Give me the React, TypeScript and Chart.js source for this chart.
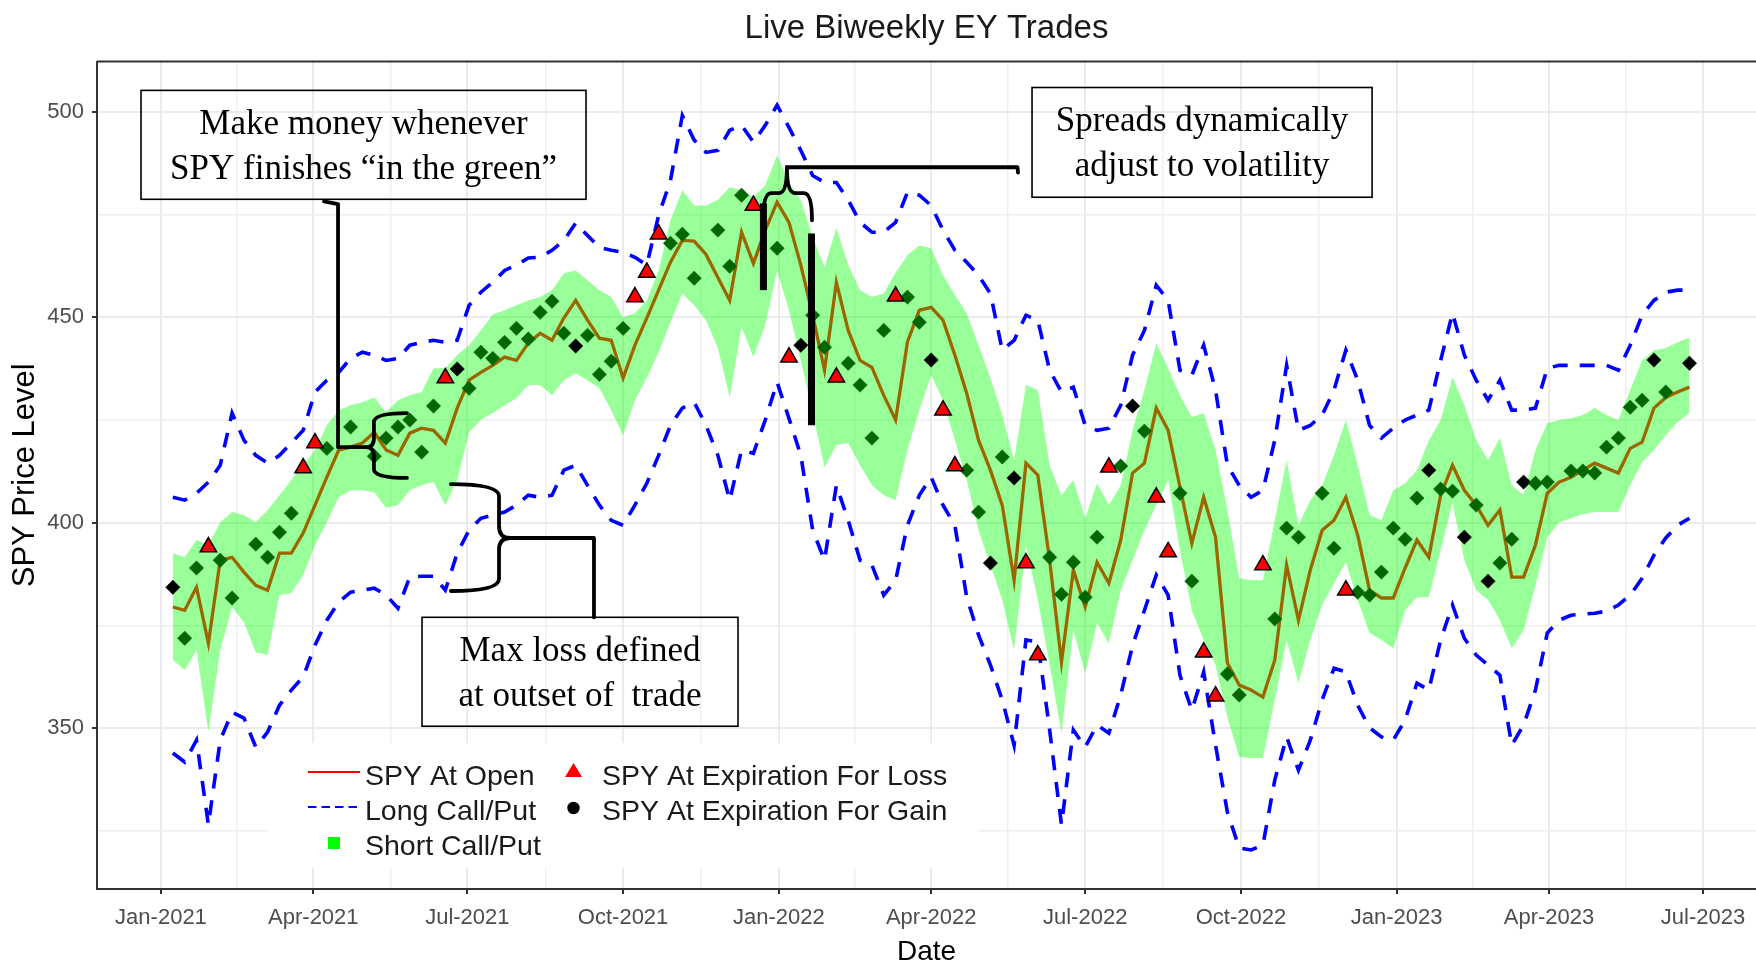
import { useEffect, useRef } from "react";
import { Chart, registerables } from "chart.js";

Chart.register(...registerables);

const SANS = '"Liberation Sans", Arial, sans-serif';
const SERIF = '"Liberation Serif", "Times New Roman", serif';

// ---- categories: weekly trade dates ----
const tradeWeeks = [
  "2021-01-08","2021-01-15","2021-01-22","2021-01-29","2021-02-05","2021-02-12","2021-02-19","2021-02-26","2021-03-05","2021-03-12",
  "2021-03-19","2021-03-26","2021-04-02","2021-04-09","2021-04-16","2021-04-23","2021-04-30","2021-05-07","2021-05-14","2021-05-21",
  "2021-05-28","2021-06-04","2021-06-11","2021-06-18","2021-06-25","2021-07-02","2021-07-09","2021-07-16","2021-07-23","2021-07-30",
  "2021-08-06","2021-08-13","2021-08-20","2021-08-27","2021-09-03","2021-09-10","2021-09-17","2021-09-24","2021-10-01","2021-10-08",
  "2021-10-15","2021-10-22","2021-10-29","2021-11-05","2021-11-12","2021-11-19","2021-11-26","2021-12-03","2021-12-10","2021-12-17",
  "2021-12-24","2021-12-31","2022-01-07","2022-01-14","2022-01-21","2022-01-28","2022-02-04","2022-02-11","2022-02-18","2022-02-25",
  "2022-03-04","2022-03-11","2022-03-18","2022-03-25","2022-04-01","2022-04-08","2022-04-15","2022-04-22","2022-04-29","2022-05-06",
  "2022-05-13","2022-05-20","2022-05-27","2022-06-03","2022-06-10","2022-06-17","2022-06-24","2022-07-01","2022-07-08","2022-07-15",
  "2022-07-22","2022-07-29","2022-08-05","2022-08-12","2022-08-19","2022-08-26","2022-09-02","2022-09-09","2022-09-16","2022-09-23",
  "2022-09-30","2022-10-07","2022-10-14","2022-10-21","2022-10-28","2022-11-04","2022-11-11","2022-11-18","2022-11-25","2022-12-02",
  "2022-12-09","2022-12-16","2022-12-23","2022-12-30","2023-01-06","2023-01-13","2023-01-20","2023-01-27","2023-02-03","2023-02-10",
  "2023-02-17","2023-02-24","2023-03-03","2023-03-10","2023-03-17","2023-03-24","2023-03-31","2023-04-07","2023-04-14","2023-04-21",
  "2023-04-28","2023-05-05","2023-05-12","2023-05-19","2023-05-26","2023-06-02","2023-06-09","2023-06-16","2023-06-23",
];

// ---- series values (SPY price level) ----
const spyOpen = [
  379.5,378.7,384.3,370.7,390.9,391.6,388.0,384.8,383.6,392.6,
  392.6,397.5,404.3,411.1,417.7,418.4,419.4,422.0,417.7,416.4,
  421.8,423.0,422.5,419.4,427.9,434.7,436.6,438.3,440.3,439.5,
  443.7,446.1,444.4,449.8,454.1,449.3,444.9,444.4,435.2,443.2,
  449.8,456.6,463.4,468.7,468.5,465.3,459.7,454.1,470.7,463.1,
  471.2,478.0,473.1,462.7,450.5,437.1,458.5,446.8,439.5,437.8,
  431.0,425.0,444.0,451.7,452.4,449.3,440.8,431.5,420.1,412.8,
  404.3,386.0,414.5,411.6,390.9,366.1,388.5,379.5,390.4,385.3,
  395.8,412.1,414.5,427.9,422.5,408.7,395.0,406.2,396.5,365.9,
  360.5,359.3,357.6,366.6,389.7,376.3,388.5,398.2,400.6,406.2,
  397.0,383.6,381.7,381.7,389.0,395.8,391.6,406.7,414.0,407.9,
  404.3,399.4,403.1,386.8,386.8,394.6,407.2,409.9,411.1,412.8,
  414.5,413.3,412.1,418.1,419.6,427.9,430.5,431.8,433.0,
];
const shortCall = [
  392.6,391.6,395.8,394.6,400.1,402.6,401.9,400.1,403.1,406.7,
  410.4,414.0,417.7,423.7,427.4,428.6,429.3,430.5,426.9,429.8,
  431.0,431.8,437.6,437.6,440.8,443.2,446.8,450.7,451.7,452.9,
  454.1,454.9,456.6,460.7,461.4,459.0,456.6,454.9,450.0,451.0,
  454.1,461.4,473.6,480.9,477.2,477.2,478.5,481.6,480.9,479.2,
  482.1,489.4,482.8,478.5,469.5,462.2,471.7,462.7,456.6,454.9,
  455.8,460.9,465.1,467.5,466.8,460.2,455.4,451.0,443.2,435.2,
  426.2,415.2,433.5,432.3,414.0,406.7,410.4,401.1,409.6,404.3,
  409.1,422.5,432.3,443.7,437.6,431.0,425.7,426.7,417.7,403.1,
  386.5,386.0,386.0,400.6,415.2,399.4,405.5,409.1,416.4,425.0,
  414.0,401.9,400.6,407.9,409.6,412.8,420.1,425.0,435.4,428.6,
  420.1,415.2,420.6,409.1,406.7,417.7,424.2,425.0,425.4,426.2,
  427.9,426.2,425.0,432.3,439.5,442.0,442.5,443.9,445.1,
];
const shortPut = [
  366.6,364.2,369.0,349.1,369.0,379.5,375.8,368.5,367.8,382.4,
  382.9,387.3,394.6,400.1,406.2,407.9,407.9,407.4,403.6,404.3,
  407.9,409.1,409.9,404.3,410.4,422.0,425.0,426.7,428.6,430.3,
  433.5,433.5,431.0,434.7,436.4,434.7,432.7,427.4,421.3,429.8,
  435.2,441.5,448.8,455.8,452.9,449.3,442.5,430.5,447.6,440.3,
  448.1,461.4,451.7,439.5,426.7,413.5,418.9,419.4,414.0,409.1,
  406.7,405.5,417.7,427.4,435.9,429.8,420.1,410.4,398.2,389.7,
  381.2,369.0,394.6,381.2,365.4,348.8,373.9,363.4,375.6,370.7,
  383.6,390.9,398.2,404.3,410.4,393.3,378.7,371.5,365.4,352.7,
  343.0,342.8,342.8,356.9,371.5,361.0,371.5,380.0,385.3,390.4,
  381.2,373.2,371.5,369.5,378.7,381.9,381.9,393.3,404.8,390.9,
  383.6,381.2,376.3,369.5,373.9,384.8,396.5,400.1,401.1,402.1,
  402.6,402.6,402.6,409.1,414.7,417.7,421.3,424.5,426.7,
];
const longCall = [
  406.2,405.5,407.2,409.9,414.0,426.7,420.1,416.4,414.5,416.4,
  419.4,422.5,431.8,434.7,436.6,440.0,441.5,440.8,439.5,440.0,
  443.2,443.9,444.4,443.9,444.4,452.9,456.1,458.5,461.4,462.7,
  464.4,464.6,466.3,468.7,472.9,469.9,467.0,466.3,465.8,464.6,
  462.7,474.8,483.3,499.1,493.1,490.1,490.6,495.5,496.7,492.6,
  496.7,501.6,496.2,490.6,484.5,482.8,482.8,478.5,473.1,470.7,
  470.7,473.1,480.4,479.7,477.2,471.2,466.3,463.4,460.2,455.8,
  442.0,444.4,450.5,449.3,437.1,431.8,433.0,423.7,422.5,423.0,
  428.6,440.8,446.8,457.8,454.1,437.1,435.9,443.2,432.3,414.0,
  409.1,406.2,407.9,420.1,438.3,422.5,423.7,426.2,432.3,442.0,
  434.7,423.7,420.6,423.0,425.0,426.2,427.4,439.5,451.0,440.8,
  434.7,429.8,434.7,427.4,427.4,427.9,437.6,438.3,438.3,438.3,
  438.3,438.3,437.1,443.2,450.5,454.1,456.1,456.6,456.6,
];
const longPut = [
  344.0,341.8,347.1,326.5,347.1,353.9,352.5,345.4,349.1,355.6,
  359.3,362.5,370.2,376.3,380.7,383.1,383.6,384.1,382.4,379.2,
  386.8,387.0,387.0,383.6,392.6,398.2,401.1,401.9,402.6,404.3,
  406.7,406.2,406.7,412.8,414.0,409.1,404.3,400.6,399.4,404.3,
  409.6,416.4,423.7,427.9,429.3,423.7,416.4,405.5,417.7,416.9,
  425.0,434.2,425.4,416.4,398.2,390.9,409.1,400.6,390.9,389.7,
  382.4,386.0,399.4,406.7,411.1,404.3,399.4,381.9,372.7,365.4,
  356.9,345.9,371.5,371.0,349.6,326.5,349.6,345.4,350.8,348.8,
  358.1,370.2,378.7,387.3,382.4,362.9,354.4,363.7,345.9,329.6,
  320.9,320.4,321.6,337.4,347.9,339.8,347.1,356.9,364.6,363.7,
  355.6,350.1,347.9,347.1,352.0,361.0,359.3,371.5,380.0,371.9,
  367.8,365.4,362.9,345.9,350.8,359.3,373.2,376.3,377.5,377.8,
  378.0,378.5,380.0,382.4,386.5,392.1,396.3,399.4,401.1,
];
// SPY at expiration; kind: l = loss, g = gain (inside band), b = gain (outside band), - = none
const expiryValue = [
  384.3,371.9,389.0,394.1,390.9,381.7,null,394.8,391.6,397.7,
  402.3,413.3,419.4,418.1,null,423.3,null,416.2,420.6,423.3,
  425.0,417.2,428.4,435.2,437.4,432.7,441.5,440.0,443.9,447.3,
  444.7,451.2,453.9,446.1,443.0,445.6,436.1,439.3,447.3,454.9,
  460.9,470.2,468.0,470.2,459.5,null,471.2,462.4,479.7,477.2,
  null,466.8,440.3,443.2,450.5,442.7,435.4,438.8,433.5,420.6,
  446.8,455.1,454.9,448.8,439.6,427.4,413.8,412.8,402.6,390.2,
  416.0,410.9,390.2,367.8,391.6,382.6,390.4,381.9,396.5,413.5,
  413.8,428.4,422.3,406.2,392.9,407.2,385.8,368.5,357.8,363.2,
  358.1,null,389.7,376.6,398.7,396.5,null,407.2,393.8,383.6,
  383.1,382.4,388.0,398.7,396.0,406.0,412.8,408.2,407.7,396.5,
  404.3,385.8,390.2,396.0,409.9,409.6,409.9,null,412.6,412.6,
  412.1,418.4,420.6,428.1,429.8,439.6,431.8,null,438.8,
];
const expiryKind =
  "bgglgg-ggg" + "gllg-g-ggg" + "ggglbggggg" + "ggggbggggl" + "llggg-gggl" +
  "-glbgglggg" + "glggbllggb" + "gbllgggggl" + "gbgllggllg" + "g-lggg-ggl" +
  "ggggggbggb" + "gbggbgg-gg" + "gggggbg-b";

// ---- axis ticks ----
const quarterDates = ["2021-01-01","2021-04-01","2021-07-01","2021-10-01","2022-01-01","2022-04-01","2022-07-01","2022-10-01","2023-01-01","2023-04-01","2023-07-01"];
const quarterLabels = ["Jan-2021","Apr-2021","Jul-2021","Oct-2021","Jan-2022","Apr-2022","Jul-2022","Oct-2022","Jan-2023","Apr-2023","Jul-2023"];
const priceMajor = [350, 400, 450, 500];
const priceMinor = [325, 375, 425, 475];

const DAY0 = Date.UTC(2021, 0, 1);
const toDay = (s: string) => (Date.parse(s + "T00:00:00Z") - DAY0) / 86400000;

// ---- annotations, in (days since 2021-01-01, price) ----
const callouts = [
  { lines: ["Make money whenever", "SPY finishes \u201Cin the green\u201D"], x0: -11.8, x1: 251.1, yTop: 505.2, yBot: 478.7 },
  { lines: ["Spreads dynamically", "adjust to volatility"], x0: 514.6, x1: 715.5, yTop: 505.9, yBot: 479.2 },
  { lines: ["Max loss defined", "at outset of  trade"], x0: 154.2, x1: 340.9, yTop: 377.0, yBot: 350.5 },
];
const connectors = [
  [[96.3, 478.2], [104.6, 477.5], [104.6, 418.4], [121.1, 418.4]],
  [[206.2, 396.3], [255.8, 396.3], [255.8, 377.0]],
  [[369.8, 486.5], [506.0, 486.5], [506.3, 485.2]],
];
const spreadBars = [
  { x: 355.9, y0: 477.7, y1: 456.6 },
  { x: 384.3, y0: 470.4, y1: 423.7 },
];

export default function App() {
  const ref = useRef<HTMLCanvasElement | null>(null);

  useEffect(() => {
    document.body.style.margin = "0";
    document.body.style.overflow = "hidden";
    const canvas = ref.current;
    if (!canvas) return;

    const days = tradeWeeks.map(toDay);
    const n = Math.min(days.length, spyOpen.length, shortCall.length, shortPut.length, longCall.length, longPut.length);
    const series = (arr: number[]) => days.slice(0, n).map((d, i) => ({ x: d, y: arr[i] }));

    const gainPts: { x: number; y: number }[] = [];
    const gainCol: string[] = [];
    const lossPts: { x: number; y: number }[] = [];
    for (let i = 0; i < days.length; i++) {
      const v = expiryValue[i];
      const k = expiryKind[i];
      if (v == null || k === undefined || k === "-") continue;
      if (k === "l") lossPts.push({ x: days[i], y: v });
      else {
        gainPts.push({ x: days[i], y: v });
        gainCol.push(k === "g" ? "#006600" : "#000000");
      }
    }

    const majorX = quarterDates.map(toDay);
    const minorX: number[] = [];
    for (let i = 0; i < majorX.length - 1; i++) minorX.push((majorX[i] + majorX[i + 1]) / 2);
    const xLabel = new Map<number, string>();
    majorX.forEach((v, i) => xLabel.set(v, quarterLabels[i]));
    const xMinorSet = new Set(minorX);
    const yMinorSet = new Set(priceMinor);

    const overlay = {
      id: "overlay",
      afterDraw(chart: any) {
        const { ctx, chartArea: ca, scales } = chart;
        const X = (d: number) => scales.x.getPixelForValue(d);
        const Y = (v: number) => scales.y.getPixelForValue(v);
        ctx.save();
        // top border of panel
        ctx.strokeStyle = "#333333";
        ctx.lineWidth = 2;
        ctx.beginPath();
        ctx.moveTo(ca.left, ca.top);
        ctx.lineTo(ca.right, ca.top);
        ctx.stroke();

        // callout boxes
        ctx.lineWidth = 1.6;
        ctx.strokeStyle = "#000";
        ctx.fillStyle = "#000";
        ctx.font = `35px ${SERIF}`;
        ctx.textAlign = "center";
        ctx.textBaseline = "alphabetic";
        for (const c of callouts) {
          const l = X(c.x0), r = X(c.x1), t = Y(c.yTop), b = Y(c.yBot);
          ctx.strokeRect(l, t, r - l, b - t);
          const cx = (l + r) / 2;
          ctx.fillText(c.lines[0], cx, t + 44);
          ctx.fillText(c.lines[1], cx, t + 89);
        }

        // braces
        ctx.lineWidth = 3.8;
        ctx.lineJoin = "round";
        ctx.lineCap = "round";
        const braceV = (xEnd: number, xSpine: number, xTip: number, yTop: number, yMid: number, yBot: number, rad: number) => {
          const e = X(xEnd), s = X(xSpine), tp = X(xTip);
          const t = Y(yTop), m = Y(yMid), b = Y(yBot);
          ctx.beginPath();
          ctx.moveTo(e, t);
          ctx.quadraticCurveTo(s, t, s, t + rad);
          ctx.lineTo(s, m - rad);
          ctx.quadraticCurveTo(s, m, tp, m);
          ctx.quadraticCurveTo(s, m, s, m + rad);
          ctx.lineTo(s, b - rad);
          ctx.quadraticCurveTo(s, b, e, b);
          ctx.stroke();
        };
        const braceH = (yEnd: number, ySpine: number, yTip: number, xL: number, xM: number, xR: number, rad: number) => {
          const e = Y(yEnd), s = Y(ySpine), tp = Y(yTip);
          const l = X(xL), m = X(xM), r = X(xR);
          ctx.beginPath();
          ctx.moveTo(l, e);
          ctx.quadraticCurveTo(l, s, l + rad, s);
          ctx.lineTo(m - rad, s);
          ctx.quadraticCurveTo(m, s, m, tp);
          ctx.quadraticCurveTo(m, s, m + rad, s);
          ctx.lineTo(r - rad, s);
          ctx.quadraticCurveTo(r, s, r, e);
          ctx.stroke();
        };
        braceV(145.3, 125.8, 121.1, 426.7, 418.4, 410.9, 9);
        braceV(171.3, 199.7, 206.2, 409.4, 396.3, 383.4, 12);
        braceH(473.6, 480.2, 486.5, 355.7, 369.8, 384.6, 8);
        for (const path of connectors) {
          ctx.beginPath();
          path.forEach(([d, v], i) => (i === 0 ? ctx.moveTo(X(d), Y(v)) : ctx.lineTo(X(d), Y(v))));
          ctx.stroke();
        }
        ctx.lineWidth = 7;
        ctx.lineCap = "butt";
        for (const b of spreadBars) {
          ctx.beginPath();
          ctx.moveTo(X(b.x), Y(b.y0));
          ctx.lineTo(X(b.x), Y(b.y1));
          ctx.stroke();
        }

        // legend
        const L = ca.left, B = ca.bottom;
        ctx.fillStyle = "#ffffff";
        ctx.fillRect(L + 171, B - 146, 711, 125);
        ctx.lineCap = "butt";
        ctx.strokeStyle = "#ff0000";
        ctx.lineWidth = 2;
        ctx.beginPath();
        ctx.moveTo(L + 211, B - 117);
        ctx.lineTo(L + 263, B - 117);
        ctx.stroke();
        ctx.strokeStyle = "#0000ff";
        ctx.setLineDash([8.5, 5]);
        ctx.beginPath();
        ctx.moveTo(L + 211, B - 82);
        ctx.lineTo(L + 263, B - 82);
        ctx.stroke();
        ctx.setLineDash([]);
        ctx.fillStyle = "#00ff00";
        ctx.fillRect(L + 231, B - 52, 12, 12);
        ctx.fillStyle = "#ff0000";
        ctx.beginPath();
        ctx.moveTo(L + 476.5, B - 126);
        ctx.lineTo(L + 485, B - 112);
        ctx.lineTo(L + 468, B - 112);
        ctx.closePath();
        ctx.fill();
        ctx.fillStyle = "#000";
        ctx.beginPath();
        ctx.arc(L + 476.5, B - 81, 6.2, 0, Math.PI * 2);
        ctx.fill();
        ctx.fillStyle = "#1a1a1a";
        ctx.font = `28.5px ${SANS}`;
        ctx.textAlign = "left";
        ctx.fillText("SPY At Open", L + 268, B - 104);
        ctx.fillText("Long Call/Put", L + 268, B - 69);
        ctx.fillText("Short Call/Put", L + 268, B - 34);
        ctx.fillText("SPY At Expiration For Loss", L + 505, B - 104);
        ctx.fillText("SPY At Expiration For Gain", L + 505, B - 69);
        ctx.restore();
      },
    };

    const chart = new Chart(canvas, {
      type: "line",
      data: {
        datasets: [
          {
            label: "Short Call",
            data: series(shortCall),
            borderWidth: 0,
            pointRadius: 0,
            fill: "+1",
            backgroundColor: "rgba(0,255,0,0.4)",
            borderColor: "rgba(0,0,0,0)",
            order: 5,
          },
          {
            label: "Short Put",
            data: series(shortPut),
            borderWidth: 0,
            pointRadius: 0,
            fill: false,
            borderColor: "rgba(0,0,0,0)",
            order: 5,
          },
          {
            label: "SPY At Open",
            data: series(spyOpen),
            borderColor: "#996600",
            borderWidth: 3.3,
            pointRadius: 0,
            fill: false,
            order: 3,
          },
          {
            label: "Long Call",
            data: series(longCall),
            borderColor: "#0000ff",
            borderWidth: 3.6,
            borderDash: [15, 12],
            pointRadius: 0,
            fill: false,
            order: 2,
          },
          {
            label: "Long Put",
            data: series(longPut),
            borderColor: "#0000ff",
            borderWidth: 3.6,
            borderDash: [15, 12],
            pointRadius: 0,
            fill: false,
            order: 2,
          },
          {
            label: "SPY At Expiration For Gain",
            data: gainPts,
            showLine: false,
            pointStyle: "rectRot",
            pointRadius: 7.2,
            pointBackgroundColor: gainCol,
            pointBorderColor: gainCol,
            pointBorderWidth: 0.5,
            order: 1,
          },
          {
            label: "SPY At Expiration For Loss",
            data: lossPts,
            showLine: false,
            pointStyle: "triangle",
            pointRadius: 9.5,
            pointBackgroundColor: "#ff0000",
            pointBorderColor: "#000000",
            pointBorderWidth: 1.5,
            order: 0,
          },
        ] as any,
      },
      options: {
        animation: false,
        responsive: false,
        events: [],
        layout: { autoPadding: false, padding: { left: 0, right: 0, top: 0, bottom: 0 } },
        elements: { line: { tension: 0 } },
        plugins: {
          legend: { display: false },
          tooltip: { enabled: false },
          title: {
            display: true,
            text: "Live Biweekly EY Trades",
            fullSize: false,
            color: "#1a1a1a",
            font: { family: SANS, size: 33, weight: "normal" as any },
            padding: { top: 9.5, bottom: 12.5 },
          },
        },
        scales: {
          x: {
            type: "linear",
            min: -37.8,
            max: 942.3,
            afterFit: (s: any) => { s.height = 74; s.paddingLeft = 0; s.paddingRight = 0; },
            afterBuildTicks: (s: any) => {
              s.ticks = [...majorX, ...minorX].sort((a, b) => a - b).map((v) => ({ value: v }));
            },
            ticks: {
              autoSkip: false,
              maxRotation: 0,
              padding: 11,
              color: "#4d4d4d",
              font: { family: SANS, size: 22 },
              callback: (v: any) => xLabel.get(Number(v)) ?? "",
            },
            grid: {
              color: (c: any) => (c.tick && xMinorSet.has(c.tick.value) ? "#eeeeee" : "#ebebeb"),
              lineWidth: (c: any) => (c.tick && xMinorSet.has(c.tick.value) ? 1.4 : 2),
              tickColor: (c: any) => (c.tick && xMinorSet.has(c.tick.value) ? "rgba(0,0,0,0)" : "#333333"),
              tickLength: 5,
              tickWidth: 2,
            },
            border: { display: true, color: "#333333", width: 2 },
            title: {
              display: true,
              text: "Date",
              color: "#000",
              font: { family: SANS, size: 28, lineHeight: 0.8 },
              padding: { top: 0, bottom: 0 },
            },
          },
          y: {
            type: "linear",
            min: 310.9,
            max: 512.2,
            afterFit: (s: any) => { s.width = 97; },
            afterBuildTicks: (s: any) => {
              s.ticks = [...priceMajor, ...priceMinor].sort((a, b) => a - b).map((v) => ({ value: v }));
            },
            ticks: {
              padding: 8,
              color: "#4d4d4d",
              font: { family: SANS, size: 22 },
              callback: (v: any) => (yMinorSet.has(Number(v)) ? "" : String(v)),
            },
            grid: {
              color: (c: any) => (c.tick && yMinorSet.has(c.tick.value) ? "#eeeeee" : "#ebebeb"),
              lineWidth: (c: any) => (c.tick && yMinorSet.has(c.tick.value) ? 1.4 : 2),
              tickColor: (c: any) => (c.tick && yMinorSet.has(c.tick.value) ? "rgba(0,0,0,0)" : "#333333"),
              tickLength: 5,
              tickWidth: 2,
            },
            border: { display: true, color: "#333333", width: 2 },
            title: {
              display: true,
              text: "SPY Price Level",
              color: "#000",
              font: { family: SANS, size: 31 },
              padding: { top: 7, bottom: 0 },
            },
          },
        },
      } as any,
      plugins: [overlay],
    });

    return () => chart.destroy();
  }, []);

  return (
    <div style={{ width: 1756, height: 963, overflow: "hidden", position: "relative", background: "#fff" }}>
      <canvas ref={ref} width={1756} height={963} style={{ display: "block", width: 1756, height: 963 }} />
    </div>
  );
}
